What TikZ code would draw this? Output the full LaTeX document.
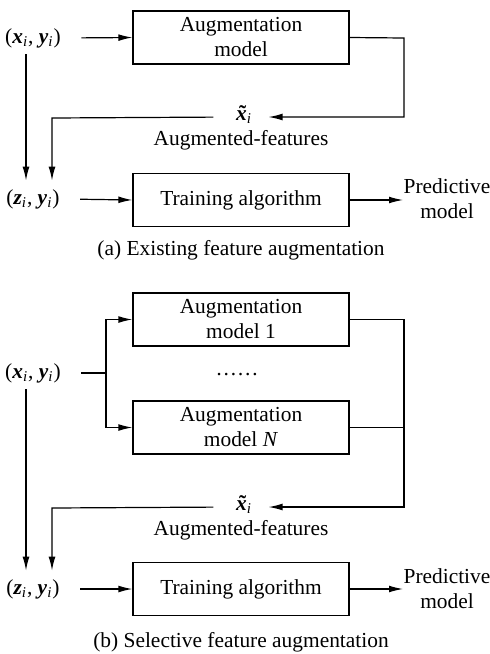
\documentclass[tikz,border=0pt]{standalone}
\usepackage{fontspec}
\setmainfont{Liberation Serif}
\usepackage{tikz}
\usetikzlibrary{arrows.meta,positioning}

\newcommand{\bx}{\textbf{\textit{x}}}
\newcommand{\by}{\textbf{\textit{y}}}
\newcommand{\bz}{\textbf{\textit{z}}}
\newcommand{\sbi}{\textsubscript{\textit{i}}}
\newcommand{\pairxy}{(\bx\sbi, \by\sbi)}
\newcommand{\pairzy}{(\bz\sbi, \by\sbi)}
\newcommand{\xtilde}{\ooalign{\bx\cr\hidewidth\hspace{0.12em}\textbf{\char"02DC}\hidewidth\cr}\sbi}

\begin{document}
\begin{tikzpicture}
    [x=0.5pt,y=-0.5pt,line width=0.6pt,
     font=\fontsize{10.7}{12.5}\selectfont,
     pre/.style={-{Latex[length=7pt,width=3.4pt]}},
     blk/.style={draw,minimum width=108pt,minimum height=26.5pt,align=center,inner sep=1pt},
     lbl/.style={inner sep=2pt}]
    \useasboundingbox (0,0) rectangle (489,654);
    % (a) existing feature augmentation
    \node [lbl] (xya) at (33,38) {\pairxy};
    \node [blk] (auga) at (241,37.5) {Augmentation\\model};
    \node [lbl] (xta) at (244,117) {\xtilde};
    \node [lbl] (afa) at (241,140) {Augmented-features};
    \node [lbl] (zya) at (33,199) {\pairzy};
    \node [blk] (traina) at (241,200) {Training algorithm};
    \node [lbl,align=center,inner sep=0pt] (preda) at (447,199) {Predictive\\model};
    \node [lbl] (capa) at (241,250) {(a) Existing feature augmentation};
    \coordinate (ra) at (404,38);
    \coordinate (la) at (52,118);
    \draw [pre,shorten <=8pt] (xya.east) -- (auga.west);
    \draw [pre,shorten >=6pt] (auga.east) -- (ra) |- (xta.east);
    \draw [pre,shorten <=9pt,shorten >=2pt] (xta.west) -- (la) -- (la |- zya.north);
    \draw [pre,shorten <=1pt,shorten >=2pt] ([xshift=-3.5pt]xya.south) -- ([xshift=-3.5pt]zya.north);
    \draw [pre,shorten <=8pt] (zya.east) -- (traina.west);
    \draw [pre] (traina.east) -- (preda.west |- traina.east);
    % (b) selective feature augmentation
    \node [lbl] (xyb) at (33,373) {\pairxy};
    \node [blk] (aug1) at (241,319.5) {Augmentation\\model 1};
    \node [lbl] (dots) at (237,375) {……};
    \node [blk] (augn) at (241,427.5) {Augmentation\\model \textit{N}};
    \node [lbl] (xtb) at (244,507) {\xtilde};
    \node [lbl] (afb) at (241,530) {Augmented-features};
    \node [lbl] (zyb) at (33,589) {\pairzy};
    \node [blk] (trainb) at (241,589) {Training algorithm};
    \node [lbl,align=center,inner sep=0pt] (predb) at (447,589) {Predictive\\model};
    \node [lbl] (capb) at (241,642) {(b) Selective feature augmentation};
    \coordinate (split) at (106,373);
    \coordinate (rb) at (404,319.5);
    \coordinate (lb) at (52,508);
    \draw [shorten <=8pt] (xyb.east) -- (split);
    \draw [pre] (split) |- (aug1.west);
    \draw [pre] (split) |- (augn.west);
    \draw (augn.east) -- (augn.east -| rb);
    \draw [pre,shorten >=6pt] (aug1.east) -- (rb) |- (xtb.east);
    \draw [pre,shorten <=9pt,shorten >=2pt] (xtb.west) -- (lb) -- (lb |- zyb.north);
    \draw [pre,shorten <=1pt,shorten >=2pt] ([xshift=-3.5pt]xyb.south) -- ([xshift=-3.5pt]zyb.north);
    \draw [pre,shorten <=8pt] (zyb.east) -- (trainb.west);
    \draw [pre] (trainb.east) -- (predb.west |- trainb.east);
\end{tikzpicture}
\end{document}
